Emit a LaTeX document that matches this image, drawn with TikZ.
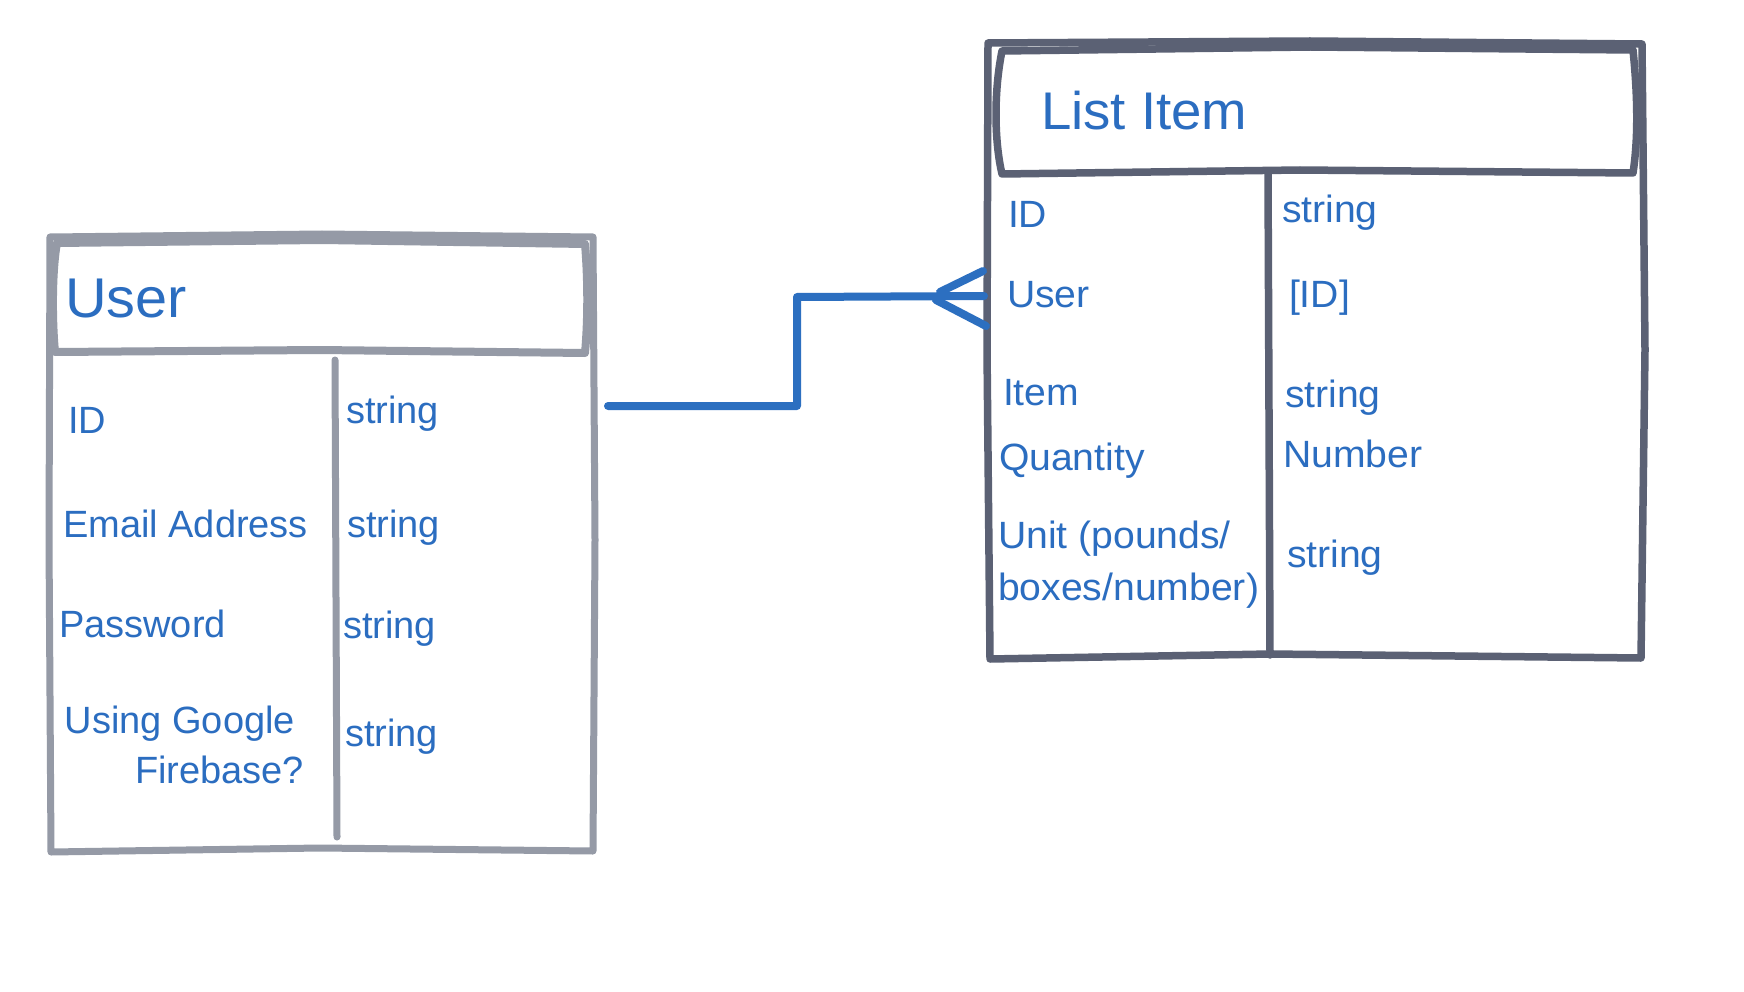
\documentclass[tikz,border=0pt]{standalone}
\usepackage{fontspec}
\setmainfont{Liberation Sans}
\newfontfamily\bodyfont[FakeStretch=1.03]{Liberation Sans}
\newfontfamily\userbodyfont[FakeStretch=1.0]{Liberation Sans}
\definecolor{textblue}{RGB}{43,109,192}
\definecolor{linkblue}{RGB}{44,111,192}
\definecolor{usergray}{RGB}{149,154,166}
\definecolor{listgray}{RGB}{91,97,116}
\begin{document}
\begin{tikzpicture}[x=1pt,y=-1pt,
  txt/.style={inner sep=0pt, outer sep=0pt, text=textblue, anchor=base west},
  utitle/.style={txt, font=\bodyfont\fontsize{56}{62}\selectfont},
  ltitle/.style={txt, font=\bodyfont\fontsize{53}{60}\selectfont},
  ubody/.style={txt, font=\userbodyfont\fontsize{38}{50}\selectfont},
  lbody/.style={txt, font=\bodyfont\fontsize{38}{52}\selectfont},
  userline/.style={draw=usergray, line width=7pt, line join=round, line cap=round},
  listline/.style={draw=listgray, line width=7.5pt, line join=round, line cap=round},
  link/.style={draw=linkblue, line width=8pt, line cap=round, line join=round}]

\fill[white] (0,0) rectangle (1744,992);

% ---------- User box ----------
\draw[userline] (50,237) -- (322,234) -- (593,237) -- (595,540) -- (593,851)
  -- (320,848) -- (51,852) -- (49,540) -- cycle;
\draw[userline, line width=8pt] (57,243) -- (322,240) -- (585,244)
  .. controls (588,280) and (588,320) .. (585,353)
  -- (320,350) -- (55,352)
  .. controls (52,320) and (52,270) .. (57,243) -- cycle;
\draw[userline] (335,360) -- (337,837);

\node[utitle] (utitle) at (65,317) {User};
\node[ubody] (uid)    at (68,433) {ID};
\node[ubody] (utype1) at (346,423) {string};
\node[ubody] (uemail) at (63,537) {Email Address};
\node[ubody] (utype2) at (347,537) {string};
\node[ubody] (upass)  at (59,637) {Password};
\node[ubody] (utype3) at (343,638) {string};
\node[ubody, anchor=base east] (ufire) at (304,733)
  {\begin{tabular}[t]{@{}r@{}}Using Google\kern9pt\relax\\Firebase?\end{tabular}};
\node[ubody] (utype4) at (345,746) {string};

% ---------- List Item box ----------
\draw[listline] (988,43) -- (1310,41) -- (1642,44) -- (1645,350) -- (1641,658)
  -- (1270,654) -- (990,659) -- (987,350) -- cycle;
\draw[listline] (1002,51) -- (1310,47) -- (1633,50)
  .. controls (1638,100) and (1638,140) .. (1633,173)
  -- (1300,170) -- (1002,174)
  .. controls (994,140) and (994,90) .. (1002,51) -- cycle;
\draw[listline] (1268,173) -- (1270,655);

\node[ltitle] (ltitle) at (1041,130) {List Item};
\node[lbody] (lid)    at (1008,228) {ID};
\node[lbody] (ltype1) at (1282,223) {string};
\node[lbody] (luser)  at (1007,307) {User};
\node[lbody] (ltype2) at (1289,307) {[ID]};
\node[lbody] (litem)  at (1003,405) {Item};
\node[lbody] (ltype3) at (1285,407) {string};
\node[lbody] (lqty)   at (999,470) {Quantity};
\node[lbody] (ltype4) at (1283,467) {Number};
\node[lbody] (lunit)  at (998,548)
  {\begin{tabular}[t]{@{}l@{}}Unit (pounds/\\boxes/number)\end{tabular}};
\node[lbody] (ltype5) at (1287,567) {string};

% ---------- connector (one-to-many) ----------
\coordinate (userport) at (608,406);
\coordinate (listport) at (984,296);
\coordinate (crowtop) at (983,271);
\coordinate (crowbot) at (986,326);
\draw[link] (userport) -- (797,406) -- (797,297) -- (listport);
\draw[link] (crowtop) -- (940,292);
\draw[link] (936,300) -- (crowbot);
\end{tikzpicture}
\end{document}
